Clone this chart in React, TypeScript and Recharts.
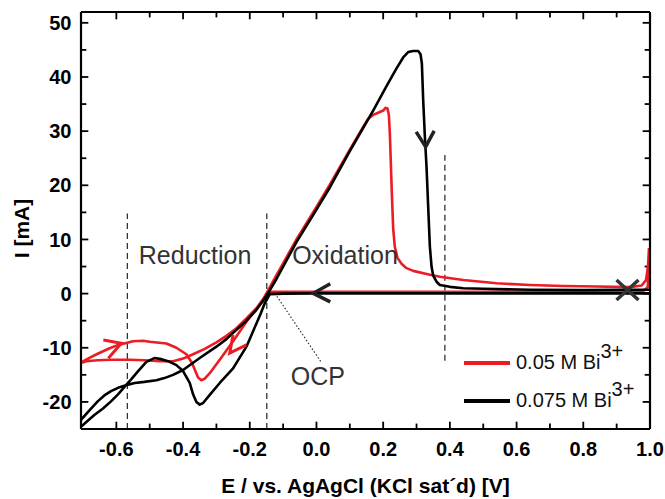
import React from 'react';
import {
  ComposedChart,
  Line,
  Scatter,
  XAxis,
  YAxis,
  ReferenceLine,
  ReferenceDot,
  Legend,
} from 'recharts';

const FONT = '"Liberation Sans", Arial, Helvetica, sans-serif';

// cyclic voltammograms, points in scan order: [E (V), I (mA)]
const BI_005: [number, number][] = [
  [0.997, 8.4], [0.996, 3.5], [0.993, 1.2], [0.98, 0.5], [0.9, 0.4], [0.7, 0.4], [0.5, 0.35],
  [0.3, 0.35], [0.1, 0.35], [-0.05, 0.35], [-0.14, 0.35],
  [-0.15, -0.3], [-0.16, -1.1], [-0.18, -2.8], [-0.21, -5.2], [-0.25, -8.8], [-0.29, -12.2],
  [-0.32, -14.7], [-0.335, -15.7], [-0.345, -16.0], [-0.355, -15.5], [-0.365, -14.0],
  [-0.373, -12.8], [-0.39, -11.2], [-0.42, -10.0], [-0.45, -9.2], [-0.5, -8.9], [-0.52, -8.7],
  [-0.55, -8.8], [-0.576, -9.2], [-0.6, -9.6], [-0.62, -10.1], [-0.656, -11.1], [-0.685, -12.0],
  [-0.712, -12.9],
  [-0.69, -12.5], [-0.656, -12.3], [-0.616, -12.2], [-0.56, -12.2], [-0.516, -12.3],
  [-0.47, -12.5], [-0.43, -12.5], [-0.4, -12.0], [-0.37, -11.2], [-0.335, -10.2], [-0.3, -9.0],
  [-0.27, -7.8], [-0.24, -6.4], [-0.21, -4.6], [-0.18, -2.7], [-0.16, -1.0], [-0.145, 0.6],
  [-0.12, 3.4], [-0.1, 5.6], [-0.06, 10.0], [0.0, 16.0], [0.04, 20.1], [0.1, 26.6], [0.14, 30.8],
  [0.155, 32.3], [0.17, 33.0], [0.185, 33.4], [0.2, 33.8], [0.207, 34.3], [0.213, 34.2],
  [0.217, 33.0], [0.22, 29.6], [0.223, 24.0], [0.226, 18.5], [0.23, 12.0], [0.235, 8.6],
  [0.243, 6.6], [0.255, 5.5], [0.27, 4.7], [0.29, 4.2], [0.34, 3.5], [0.37, 3.1], [0.44, 2.5],
  [0.54, 1.9], [0.64, 1.6], [0.74, 1.4], [0.84, 1.3], [0.94, 1.2], [0.975, 1.5], [0.988, 2.5],
  [0.994, 5.0], [0.997, 8.4],
];

const BI_0075: [number, number][] = [
  [1.0, 0.05], [0.8, 0.05], [0.6, 0.05], [0.4, 0.05], [0.2, 0.05], [0.0, 0.05], [-0.1, 0.0],
  [-0.14, -0.1],
  [-0.155, -1.8], [-0.168, -3.8], [-0.18, -5.5], [-0.21, -9.8], [-0.25, -13.8], [-0.29, -16.5],
  [-0.32, -18.7], [-0.34, -20.2], [-0.35, -20.5], [-0.36, -20.0], [-0.37, -18.6], [-0.38, -16.5],
  [-0.4, -14.3], [-0.42, -13.2], [-0.44, -12.6], [-0.465, -12.1], [-0.486, -11.9], [-0.51, -12.6],
  [-0.536, -14.4], [-0.555, -15.8], [-0.571, -16.9], [-0.595, -18.6], [-0.616, -19.9],
  [-0.64, -21.2], [-0.666, -22.4], [-0.69, -23.7], [-0.706, -24.6], [-0.72, -25.4],
  [-0.72, -24.0], [-0.706, -23.3], [-0.68, -21.5], [-0.656, -19.9], [-0.636, -18.8],
  [-0.616, -18.0], [-0.595, -17.4], [-0.571, -16.9], [-0.545, -16.5], [-0.516, -16.3],
  [-0.48, -16.0], [-0.456, -15.6], [-0.43, -15.0], [-0.4, -14.1], [-0.35, -11.9], [-0.3, -9.8],
  [-0.27, -8.4], [-0.24, -6.7], [-0.21, -5.0], [-0.18, -3.0], [-0.16, -1.3], [-0.145, 0.1],
  [-0.12, 2.7], [-0.1, 5.0], [-0.06, 9.5], [0.0, 15.5], [0.04, 19.6], [0.1, 26.3], [0.17, 33.8],
  [0.21, 38.3], [0.24, 41.6], [0.26, 43.6], [0.275, 44.6], [0.29, 44.8], [0.305, 44.8],
  [0.312, 44.2], [0.316, 42.5], [0.32, 35.7], [0.325, 29.0], [0.33, 23.4], [0.335, 16.0],
  [0.34, 8.7], [0.345, 5.0], [0.35, 3.3], [0.36, 2.2], [0.37, 1.6], [0.4, 1.25], [0.44, 1.0],
  [0.5, 0.9], [0.64, 0.7], [0.8, 0.65], [0.92, 0.7], [1.0, 0.7],
];

const SERIES = [
  { key: 'c005', label: '0.05 M Bi', sup: '3+', color: '#ed1c24', pts: BI_005 },
  { key: 'c0075', label: '0.075 M Bi', sup: '3+', color: '#000000', pts: BI_0075 },
];

const X_DOMAIN: [number, number] = [-0.706, 1.0];
const Y_DOMAIN: [number, number] = [-25, 52];
const X_TICKS = [-0.6, -0.5, -0.4, -0.3, -0.2, -0.1, 0, 0.1, 0.2, 0.3, 0.4, 0.5, 0.6, 0.7, 0.8, 0.9, 1.0];
const X_LABELS = [-0.6, -0.4, -0.2, 0, 0.2, 0.4, 0.6, 0.8, 1.0];
const Y_TICKS = [-20, -15, -10, -5, 0, 5, 10, 15, 20, 25, 30, 35, 40, 45, 50];
const Y_LABELS = [-20, -10, 0, 10, 20, 30, 40, 50];

// region guides (dashed) and the OCP pointer (dotted)
const GUIDES = [
  { x: -0.567, from: -25, to: 14.8 },
  { x: -0.149, from: -25, to: 14.8 },
  { x: 0.385, from: -12.4, to: 25.6 },
];
const OCP_POINTER = [{ x: -0.1245, y: 0.05 }, { x: 0.0156, y: -12.8 }];

const NOTES = [
  { text: 'Reduction', x: -0.364, y: 7.05 },
  { text: 'Oxidation', x: 0.0855, y: 7.05 },
  { text: 'OCP', x: 0.004, y: -15.2 },
];

// scan direction arrows and the start mark
const MARKS = [
  { x: -0.0096, y: 0.05, kind: 'left' },
  { x: 0.3274, y: 27.1, kind: 'down' },
  { x: -0.585, y: -9.16, kind: 'redRight' },
  { x: -0.26, y: -11.0, kind: 'redDown' },
  { x: 0.9325, y: 0.66, kind: 'cross' },
];

const MARK_STYLE: Record<string, { color: string; w: number; paths: number[][][] }> = {
  left: { color: '#222', w: 3.5, paths: [[[17, -9.5], [0, 0], [17, 8.5]]] },
  down: { color: '#222', w: 3.5, paths: [[[-9.5, -15], [0, 0], [8.5, -16]]] },
  redRight: { color: '#ed1c24', w: 3, paths: [[[-18, -3.3], [0, 0], [-13, 15]]] },
  redDown: { color: '#ed1c24', w: 3, paths: [[[3.3, -18.3], [0, 0], [16.7, -8.3]]] },
  cross: { color: '#333', w: 3.5, paths: [[[-11, -10], [11, 10]], [[-11, 10], [11, -10]]] },
};

const toRows = (pts: [number, number][]) => pts.map(([x, y]) => ({ x, y }));

// inward frame ticks as short two-point lines; lengths ~7px major / 5px minor in axis units
const TICK_X_LEN = { major: 0.022, minor: 0.016 };
const TICK_Y_LEN = { major: 1.35, minor: 1.0 };
const xTickSegs = X_TICKS.flatMap((v) => {
  const l = X_LABELS.includes(v) ? TICK_Y_LEN.major : TICK_Y_LEN.minor;
  return [
    [{ x: v, y: Y_DOMAIN[0] }, { x: v, y: Y_DOMAIN[0] + l }],
    [{ x: v, y: Y_DOMAIN[1] }, { x: v, y: Y_DOMAIN[1] - l }],
  ];
});
const yTickSegs = Y_TICKS.flatMap((v) => {
  const l = Y_LABELS.includes(v) ? TICK_X_LEN.major : TICK_X_LEN.minor;
  return [
    [{ x: X_DOMAIN[0], y: v }, { x: X_DOMAIN[0] + l, y: v }],
    [{ x: X_DOMAIN[1], y: v }, { x: X_DOMAIN[1] - l, y: v }],
  ];
});
const TICK_SEGS = [...xTickSegs, ...yTickSegs];

const AXIS_LINE = { stroke: '#000', strokeWidth: 2.2 };
const LABEL_FONT = { fill: '#000', fontSize: 20, fontWeight: 'bold', fontFamily: FONT };

const BottomLabel = ({ x, y, payload }: any) =>
  X_LABELS.includes(payload.value) ? (
    <text x={x} y={y + 26.7} textAnchor="middle" {...LABEL_FONT}>
      {payload.value.toFixed(1)}
    </text>
  ) : (
    <g />
  );

const LeftLabel = ({ x, y, payload }: any) =>
  Y_LABELS.includes(payload.value) ? (
    <text x={x - 9.5} y={y + 7.1} textAnchor="end" {...LABEL_FONT}>
      {payload.value}
    </text>
  ) : (
    <g />
  );

const Mark = (props: any) => {
  const { cx, cy, payload } = props;
  const st = MARK_STYLE[payload.kind];
  return (
    <g>
      {st.paths.map((p, i) => (
        <polyline
          key={i}
          points={p.map(([dx, dy]) => `${cx + dx},${cy + dy}`).join(' ')}
          fill="none"
          stroke={st.color}
          strokeWidth={st.w}
        />
      ))}
    </g>
  );
};

const XTitle = (props: any) => {
  const vb = props.viewBox;
  return (
    <text
      x={vb.x + vb.width / 2}
      y={vb.y + 64}
      textAnchor="middle"
      fontFamily={FONT}
      fontSize={21}
      fontWeight="bold"
      fill="#000"
    >
      E / vs. AgAgCl (KCl sat´d) [V]
    </text>
  );
};

const YTitle = (props: any) => {
  const vb = props.viewBox;
  const cx = vb.x + 8;
  const cy = vb.y + vb.height / 2 + 8;
  return (
    <text
      x={cx}
      y={cy}
      transform={`rotate(-90 ${cx} ${cy})`}
      textAnchor="middle"
      fontFamily={FONT}
      fontSize={21}
      fontWeight="bold"
      fill="#000"
    >
      I [mA]
    </text>
  );
};

const LegendBox = () => (
  <div style={{ fontFamily: FONT, fontSize: 20, color: '#111' }}>
    {SERIES.map((s) => (
      <div key={s.key} style={{ display: 'flex', alignItems: 'center', height: 37.4 }}>
        <span style={{ display: 'inline-block', width: 46, height: 4, background: s.color }} />
        <span style={{ marginLeft: 6, lineHeight: '20px', position: 'relative', top: -1, whiteSpace: 'nowrap' }}>
          {s.label}
          <span style={{ position: 'relative', top: -11 }}>{s.sup}</span>
        </span>
      </div>
    ))}
  </div>
);

const xAxisCommon = {
  type: 'number' as const,
  domain: X_DOMAIN,
  allowDataOverflow: true,
  ticks: X_TICKS,
  interval: 0 as const,
  tickSize: 0,
  tickMargin: 0,
  tickLine: false,
  axisLine: AXIS_LINE,
};

const yAxisCommon = {
  type: 'number' as const,
  domain: Y_DOMAIN,
  allowDataOverflow: true,
  ticks: Y_TICKS,
  interval: 0 as const,
  tickSize: 0,
  tickMargin: 0,
  tickLine: false,
  axisLine: AXIS_LINE,
};

export default function App() {
  return (
    <div style={{ position: 'absolute', left: 0, top: 0, width: 665, height: 499, background: '#fff' }}>
      <ComposedChart width={665} height={499} margin={{ top: 11, right: 14, bottom: 30, left: 21 }}>
        <XAxis dataKey="x" {...xAxisCommon} height={40} tick={BottomLabel} label={XTitle} />
        <XAxis xAxisId="top" orientation="top" {...xAxisCommon} height={1} tick={false} />
        <YAxis dataKey="y" {...yAxisCommon} width={60} tick={LeftLabel} label={YTitle} />
        <YAxis yAxisId="right" orientation="right" {...yAxisCommon} width={1} tick={false} />

        {GUIDES.map((g) => (
          <ReferenceLine
            key={g.x}
            segment={[{ x: g.x, y: g.from }, { x: g.x, y: g.to }]}
            stroke="#333"
            strokeWidth={1.3}
            strokeDasharray="6 4"
            ifOverflow="visible"
          />
        ))}
        <ReferenceLine
          segment={OCP_POINTER}
          stroke="#333"
          strokeWidth={1.2}
          strokeDasharray="1.5 2"
          ifOverflow="visible"
        />

        {TICK_SEGS.map((seg, i) => (
          <Line
            key={`tick${i}`}
            data={seg}
            dataKey="y"
            type="linear"
            stroke="#000"
            strokeWidth={1.8}
            dot={false}
            activeDot={false}
            legendType="none"
            isAnimationActive={false}
          />
        ))}

        {SERIES.map((s) => (
          <Line
            key={s.key}
            data={toRows(s.pts)}
            dataKey="y"
            name={s.label + s.sup}
            type="linear"
            stroke={s.color}
            strokeWidth={2.6}
            strokeLinejoin="round"
            dot={false}
            activeDot={false}
            isAnimationActive={false}
          />
        ))}

        <Scatter data={MARKS} shape={Mark} isAnimationActive={false} legendType="none" />

        {NOTES.map((n) => (
          <ReferenceDot
            key={n.text}
            x={n.x}
            y={n.y}
            r={0}
            fill="none"
            stroke="none"
            label={{ value: n.text, position: 'center', fill: '#333', fontSize: 25, fontFamily: FONT }}
          />
        ))}

        <Legend
          content={<LegendBox />}
          layout="vertical"
          align="center"
          verticalAlign="middle"
          wrapperStyle={{ left: 464, top: 344.6, width: 200, height: 75 }}
        />
      </ComposedChart>
    </div>
  );
}
